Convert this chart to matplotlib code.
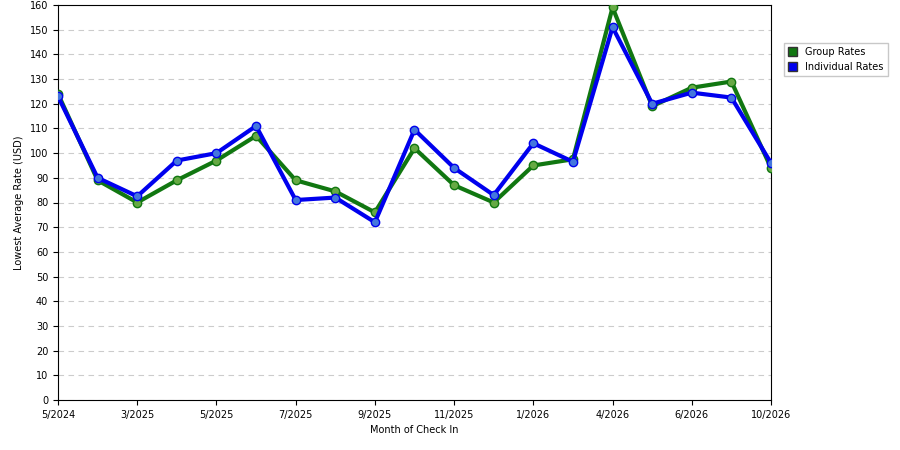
import matplotlib
matplotlib.use("Agg")
import matplotlib.pyplot as plt

months = ["5/2024","2/2025","3/2025","4/2025","5/2025","6/2025","7/2025","8/2025","9/2025",
          "10/2025","11/2025","12/2025","1/2026","2/2026","4/2026","5/2026","6/2026","8/2026","10/2026"]
shown = ["5/2024","3/2025","5/2025","7/2025","9/2025","11/2025","1/2026","4/2026","6/2026","10/2026"]
group = [124,89,80,89,97,107,89,84.5,76,102,87,80,95,97.5,159,119,126.5,129,94]
indiv = [123,90,82.5,97,100,111,81,82,72,109.5,94,83,104,96.5,151,120,124.5,122.5,96]

fig = plt.figure(figsize=(9,4.5), dpi=100)
ax = fig.add_axes([58/900, 50/450, 713/900, 395/450])
x = list(range(len(months)))
ax.plot(x, group, color="#117711", lw=3, marker="o", ms=6, mfc="#66aa44", mec="#117711", label="Group Rates", zorder=3)
ax.plot(x, indiv, color="#0000ee", lw=3, marker="o", ms=6, mfc="#4477dd", mec="#0000ee", label="Individual Rates", zorder=4)
ax.set_xlim(0, len(months)-1)
ax.set_ylim(0,160)
ax.set_yticks(range(0,161,10))
ax.set_xticks([months.index(m) for m in shown])
ax.set_xticklabels(shown)
ax.tick_params(labelsize=7)
ax.yaxis.grid(True, ls=(0,(5,4)), color="#cccccc", lw=0.8)
ax.set_axisbelow(True)
ax.set_xlabel("Month of Check In", fontsize=7)
ax.set_ylabel("Lowest Average Rate (USD)", fontsize=7)
h, l = ax.get_legend_handles_labels()
import matplotlib.patches as mp
handles = [mp.Patch(facecolor="#117711", edgecolor="#333333"), mp.Patch(facecolor="#0000ee", edgecolor="#333333")]
fig.legend(handles, ["Group Rates","Individual Rates"], loc="upper left", bbox_to_anchor=(779/900, 1-38/450),
           fontsize=7, frameon=True, fancybox=False, edgecolor="#bbbbbb", handlelength=1, handleheight=1)
fig.savefig("out.png")
